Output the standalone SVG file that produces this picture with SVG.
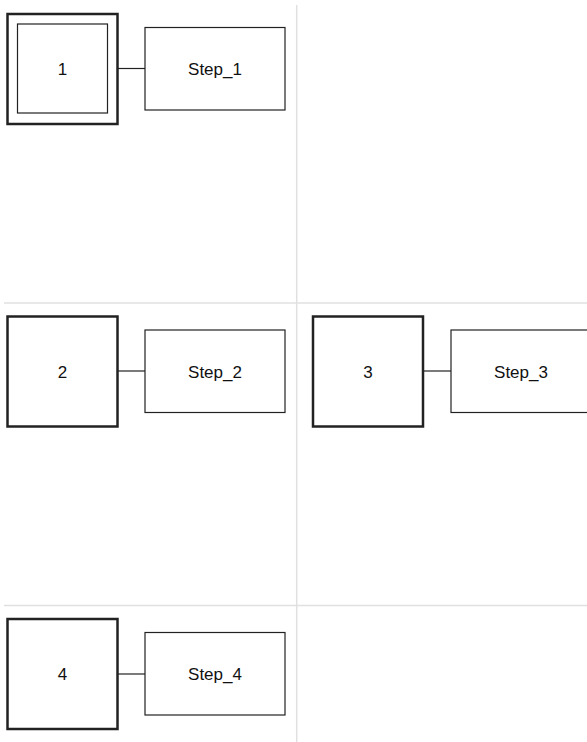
<svg xmlns="http://www.w3.org/2000/svg" width="587" height="742" viewBox="0 0 587 742">
<style>
.grid{stroke:#e0e0e0;stroke-width:1.5;fill:none}
.step{fill:#fff;stroke:#222;stroke-width:2.5}
.inner{fill:#fff;stroke:#222;stroke-width:1.2}
.act{fill:#fff;stroke:#222;stroke-width:1.2}
.conn{stroke:#222;stroke-width:1.2;fill:none}
text{font-family:"Liberation Sans",Arial,sans-serif;font-size:17px;fill:#111;text-anchor:middle;dominant-baseline:central}
</style>
<rect width="587" height="742" fill="#fff"/>
<g id="grid">
<line class="grid" x1="296.7" y1="5" x2="296.7" y2="742"/>
<line class="grid" x1="4" y1="303" x2="587" y2="303"/>
<line class="grid" x1="4" y1="605.5" x2="587" y2="605.5"/>
</g>
<g id="connectors">
<line class="conn" x1="117" y1="68.5" x2="145" y2="68.5"/>
<line class="conn" x1="117" y1="371" x2="145" y2="371"/>
<line class="conn" x1="423" y1="371" x2="451" y2="371"/>
<line class="conn" x1="117" y1="674" x2="145" y2="674"/>
</g>
<g id="step1">
<rect class="step" x="7.5" y="14" width="110" height="110"/>
<rect class="inner" x="17.5" y="24" width="90" height="89"/>
<text x="62.5" y="69.5">1</text>
</g>
<g id="action1">
<rect class="act" x="145" y="27.5" width="140" height="82.5"/>
<text x="215" y="69.5">Step_1</text>
</g>
<g id="step2">
<rect class="step" x="7.5" y="316.5" width="110" height="110"/>
<text x="62.5" y="372">2</text>
</g>
<g id="action2">
<rect class="act" x="145" y="330" width="140" height="82.5"/>
<text x="215" y="372">Step_2</text>
</g>
<g id="step3">
<rect class="step" x="313" y="316.5" width="110" height="110"/>
<text x="368" y="372">3</text>
</g>
<g id="action3">
<rect class="act" x="451" y="330" width="140" height="82.5"/>
<text x="521" y="372">Step_3</text>
</g>
<g id="step4">
<rect class="step" x="7.5" y="619" width="110" height="110"/>
<text x="62.5" y="674.5">4</text>
</g>
<g id="action4">
<rect class="act" x="145" y="632.5" width="140" height="82.5"/>
<text x="215" y="674.5">Step_4</text>
</g>
</svg>
